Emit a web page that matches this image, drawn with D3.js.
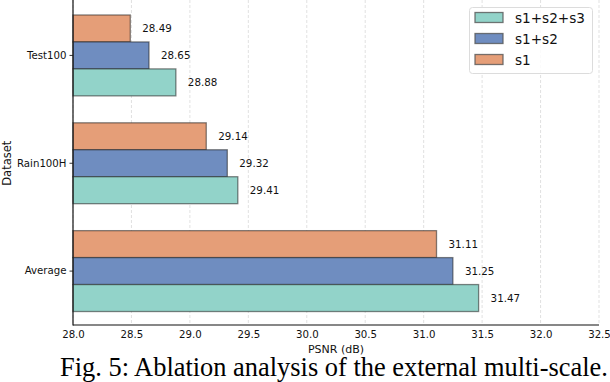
<!DOCTYPE html>
<html>
<head>
<meta charset="utf-8">
<script src="https://cdn.jsdelivr.net/npm/d3@7"></script>
<style>
  body { margin: 0; background: #fff; }
  svg { display: block; }
  text { font-family: "DejaVu Sans", sans-serif; }
</style>
</head>
<body>
<div id="chart"></div>
<script>
// data
var datasets = ["Test100", "Rain100H", "Average"];
var variants = ["s1", "s1+s2", "s1+s2+s3"];
var s1 = [28.49, 29.14, 31.11];
var s1s2 = [28.65, 29.32, 31.25];
var s1s2s3 = [28.88, 29.41, 31.47];
var xTicks = [28.0, 28.5, 29.0, 29.5, 30.0, 30.5, 31.0, 31.5, 32.0, 32.5];
var colors = {"s1": "#e59e78", "s1+s2": "#6f8dc0", "s1+s2+s3": "#92d3c9"};

var series = {"s1": s1, "s1+s2": s1s2, "s1+s2+s3": s1s2s3};

var W = 610, H = 382;
var svg = d3.select("#chart").append("svg").attr("width", W).attr("height", H);

var mLeft = 73, mRight = 599, mTop = 1.5, mBottom = 325;

var x = d3.scaleLinear().domain([28.0, 32.5]).range([mLeft, mRight]);
var y = d3.scaleBand().domain(datasets).range([mTop, mBottom])
    .paddingInner(0.25).paddingOuter(0.125);
var yInner = d3.scaleBand().domain(variants).range([0, y.bandwidth()]);

// grid
svg.append("g").selectAll("line").data(xTicks).enter().append("line")
    .attr("x1", d => x(d)).attr("x2", d => x(d))
    .attr("y1", 0).attr("y2", mBottom)
    .attr("stroke", "#d9d9d9").attr("stroke-width", 0.8)
    .attr("stroke-dasharray", "3,2");

// bars
var groups = svg.append("g").selectAll("g").data(datasets).enter().append("g")
    .attr("transform", d => "translate(0," + y(d) + ")");

groups.selectAll("rect")
    .data((d, i) => variants.map(v => ({v: v, val: series[v][i]})))
    .enter().append("rect")
    .attr("x", x(28.0))
    .attr("y", d => yInner(d.v))
    .attr("width", d => x(d.val) - x(28.0))
    .attr("height", yInner.bandwidth())
    .attr("fill", d => colors[d.v])
    .attr("stroke", "#222").attr("stroke-opacity", 0.55).attr("stroke-width", 1.3);

groups.selectAll("text")
    .data((d, i) => variants.map(v => ({v: v, val: series[v][i]})))
    .enter().append("text")
    .attr("x", d => x(d.val) + 12)
    .attr("y", d => yInner(d.v) + yInner.bandwidth() / 2)
    .attr("dy", "0.35em")
    .attr("font-size", "10.3px")
    .attr("fill", "#111")
    .text(d => d.val.toFixed(2));

// axes
var yAxis = svg.append("g").attr("transform", "translate(" + mLeft + ",0)")
    .call(d3.axisLeft(y).tickSize(3.5).tickPadding(3));
yAxis.select(".domain").remove();
yAxis.selectAll("text").attr("font-size", "10.2px").attr("font-family", "DejaVu Sans").attr("fill", "#111");
yAxis.selectAll("line").attr("stroke", "#333");

svg.append("line").attr("x1", mLeft).attr("x2", mLeft).attr("y1", 0).attr("y2", mBottom + 0.5)
    .attr("stroke", "#111").attr("stroke-width", 1.2);
svg.append("line").attr("x1", mLeft).attr("x2", mRight).attr("y1", mBottom).attr("y2", mBottom)
    .attr("stroke", "#111").attr("stroke-width", 1.2);

var xAxis = svg.append("g").attr("transform", "translate(0," + mBottom + ")")
    .call(d3.axisBottom(x).tickValues(xTicks).tickFormat(d3.format(".1f")).tickSize(0).tickPadding(6));
xAxis.select(".domain").remove();
xAxis.selectAll("text").attr("font-size", "10.2px").attr("font-family", "DejaVu Sans").attr("fill", "#111");

// axis labels
svg.append("text").attr("x", (mLeft + mRight) / 2).attr("y", 353)
    .attr("text-anchor", "middle").attr("font-size", "11px").attr("fill", "#111")
    .text("PSNR (dB)");
svg.append("text").attr("transform", "translate(11," + ((mTop + mBottom) / 2) + ") rotate(-90)")
    .attr("text-anchor", "middle").attr("font-size", "11.5px").attr("fill", "#111")
    .text("Dataset");

// legend
var lg = svg.append("g");
lg.append("rect").attr("x", 469.5).attr("y", 7.5).attr("width", 123).attr("height", 66)
    .attr("rx", 3).attr("fill", "#fff").attr("fill-opacity", 0.85)
    .attr("stroke", "#dcdcdc").attr("stroke-width", 1);
var legendOrder = ["s1+s2+s3", "s1+s2", "s1"];
var items = lg.selectAll("g.item").data(legendOrder).enter().append("g")
    .attr("transform", (d, i) => "translate(475," + (18 + i * 21) + ")");
items.append("rect").attr("x", 0).attr("y", -5.5).attr("width", 28).attr("height", 10)
    .attr("fill", d => colors[d]).attr("stroke", "#555").attr("stroke-opacity", 0.8).attr("stroke-width", 1.3);
items.append("text").attr("x", 40).attr("y", 0).attr("dy", "0.35em")
    .attr("font-size", "13.6px").attr("fill", "#111").text(d => d);

// caption
var cap = svg.append("text").attr("x", 60).attr("y", 376)
    .style("font-family", "'Liberation Serif', 'Times New Roman', serif")
    .attr("font-size", "22px").attr("fill", "#000")
    .text("Fig. 5: Ablation analysis of the external multi-scale.");
var len = cap.node().getComputedTextLength();
cap.attr("font-size", (22 * 548 / len).toFixed(2) + "px");
</script>
</body>
</html>
